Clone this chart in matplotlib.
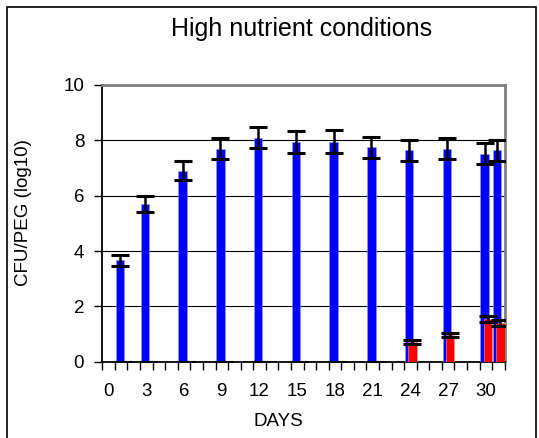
import matplotlib
matplotlib.use('Agg')
import matplotlib.pyplot as plt
import numpy as np
from matplotlib.patches import Rectangle

plt.rcParams['font.family'] = ['Liberation Sans', 'DejaVu Sans']

# data
days = [1, 3, 6, 9, 12, 15, 18, 21, 24, 27, 30, 31]
blue_mean = [3.66, 5.70, 6.90, 7.69, 8.10, 7.94, 7.95, 7.75, 7.64, 7.69, 7.52, 7.64]
blue_err = [0.20, 0.30, 0.35, 0.38, 0.38, 0.41, 0.41, 0.38, 0.38, 0.38, 0.37, 0.38]
red_mean = [0, 0, 0, 0, 0, 0, 0, 0, 0.71, 0.97, 1.54, 1.40]
red_err = [0, 0, 0, 0, 0, 0, 0, 0, 0.07, 0.07, 0.11, 0.10]
tick_days = [0, 3, 6, 9, 12, 15, 18, 21, 24, 27, 30]

W, H = 539, 438
fig = plt.figure(figsize=(W / 100, H / 100), dpi=100)
ax = fig.add_axes([102.3 / W, 1 - 361.7 / H, 402.5 / W, 276.7 / H])

x = np.array(days, dtype=float)
errkw = dict(ecolor='black', elinewidth=1.8, capsize=6.2, capthick=2.2)
ax.bar(x + 0.39, blue_mean, width=0.68, color='#0000ff', edgecolor='#9999ff',
       linewidth=0.4, yerr=blue_err, error_kw=errkw, zorder=3)
ax.bar(x + 0.65, red_mean, width=0.68, color='#ff0000', edgecolor='#ff9999',
       linewidth=0.4, yerr=red_err, error_kw=errkw, zorder=4)

ax.set_xlim(0, 32)
ax.set_ylim(0, 10)
ax.set_yticks(np.arange(0, 11, 2))
ax.yaxis.grid(True, color='black', linewidth=0.8)
ax.set_axisbelow(True)

# category boundaries as ticks, labels centred in categories
ax.set_xticks(np.arange(0, 33))
ax.set_xticklabels([])
ax.set_xticks([d + 0.5 for d in tick_days], minor=True)
ax.set_xticklabels([str(d) for d in tick_days], minor=True)
ax.tick_params(axis='x', which='major', length=6, width=1, direction='out')
ax.tick_params(axis='x', which='minor', length=0, pad=15.5, labelsize=13.5)
ax.tick_params(axis='y', length=6, width=1, direction='out', pad=7, labelsize=13.5)

for s in ['left', 'bottom']:
    ax.spines[s].set_color('black')
    ax.spines[s].set_linewidth(1.3)
for s in ['top', 'right']:
    ax.spines[s].set_color('#808080')
    ax.spines[s].set_linewidth(2)

fig.text(301.5 / W, 1 - 29 / H, 'High nutrient conditions', ha='center', va='center', fontsize=18)
fig.text(24 / W, 1 - 213 / H, 'CFU/PEG (log10)', ha='center', va='center',
         rotation=90, fontsize=13.5)
fig.text(278 / W, 1 - 421 / H, 'DAYS', ha='center', va='center', fontsize=13.5)

# outer chart border
fig.patches.append(Rectangle((7 / W, -0.02), 529 / W, 1 - 7 / H + 0.02,
                             transform=fig.transFigure, fill=False,
                             edgecolor='black', linewidth=1.2))

fig.savefig('out.png', dpi=100)
